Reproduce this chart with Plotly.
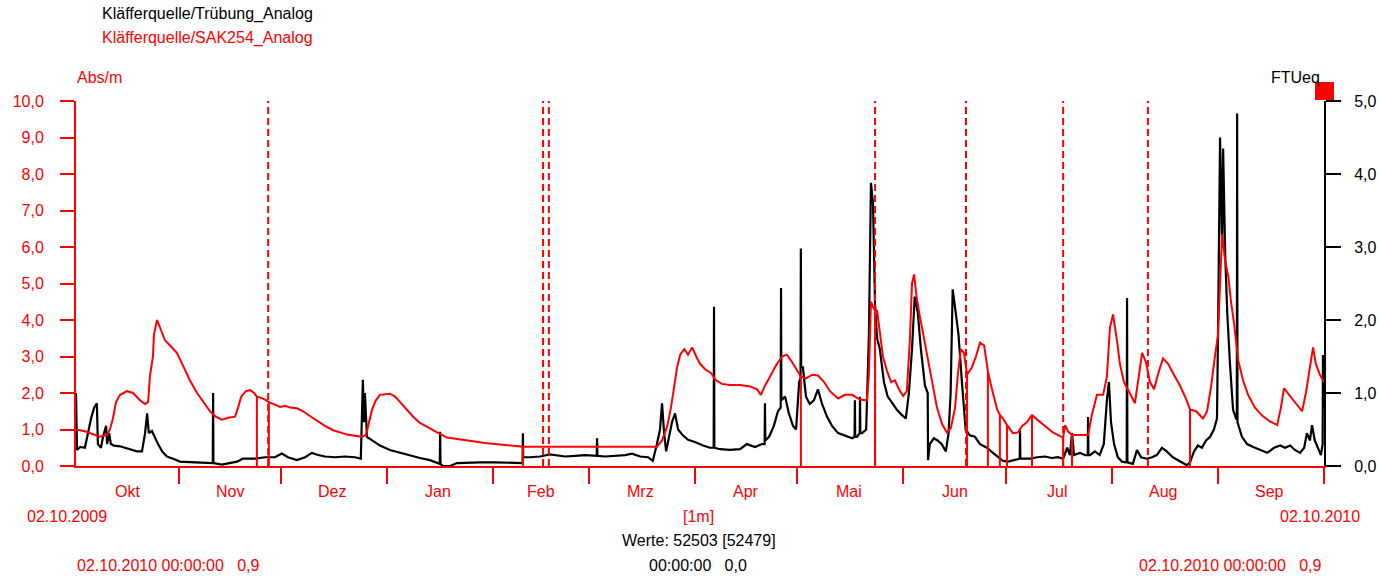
import pandas as pd
import plotly.graph_objects as go

# ---------------- data (days since 02.10.2009, value) ----------------
START = pd.Timestamp("2009-10-02")
END = pd.Timestamp("2010-10-02")

# SAK254 [Abs/m] (left axis); repeated day with 0.0 = recorded drop-outs
sak_points = [
    (0.0, 1.0), (2.6, 0.95), (7.0, 0.80), (9.1, 0.85), (9.9, 1.0), (10.8, 1.3), (11.7, 1.75), (12.9, 1.95),
    (14.9, 2.05), (16.7, 2.0), (18.7, 1.8), (20.2, 1.7), (21.1, 1.75), (21.6, 2.45), (22.5, 3.0), (22.8, 3.6),
    (23.7, 4.0), (24.6, 3.8), (26.0, 3.45), (27.5, 3.3), (29.5, 3.1), (31.3, 2.75), (33.3, 2.35), (35.4, 2.0),
    (37.4, 1.75), (39.2, 1.5), (40.9, 1.35), (42.7, 1.27), (44.5, 1.32), (46.5, 1.35), (47.4, 1.6), (48.3, 1.9),
    (49.7, 2.05), (50.9, 2.08), (52.1, 2.0), (52.9, 1.9), (52.9, 0.0), (52.9, 1.9), (53.8, 1.88), (55.3, 1.82),
    (56.4, 1.75), (56.4, 0.0), (56.4, 1.75), (58.2, 1.68), (59.7, 1.62), (61.1, 1.65), (62.6, 1.6), (64.6, 1.58),
    (66.4, 1.5), (68.4, 1.37), (70.8, 1.22), (72.8, 1.1), (75.2, 0.98), (77.2, 0.92), (79.3, 0.86), (81.6, 0.83),
    (83.6, 0.8), (84.8, 0.85), (85.4, 1.1), (86.6, 1.55), (87.7, 1.8), (88.9, 1.95), (91.8, 1.98), (93.3, 1.9),
    (94.8, 1.75), (96.8, 1.55), (98.6, 1.35), (100.6, 1.18), (102.9, 1.05), (105.6, 0.92), (108.5, 0.78),
    (112.3, 0.72), (116.1, 0.68), (119.6, 0.63), (123.1, 0.6), (126.9, 0.56), (130.7, 0.53), (130.7, 0.0),
    (130.7, 0.53), (135.7, 0.53), (141.6, 0.53), (147.4, 0.55), (153.3, 0.55), (159.1, 0.54), (165.0, 0.53),
    (169.9, 0.53), (171.4, 0.7), (172.9, 1.08), (174.0, 1.6), (174.9, 2.1), (175.8, 2.7), (176.7, 3.05),
    (177.9, 3.2), (179.0, 3.05), (180.2, 3.25), (181.4, 3.0), (182.5, 2.8), (184.0, 2.65), (185.7, 2.55),
    (187.2, 2.35), (188.9, 2.25), (191.3, 2.22), (194.2, 2.22), (197.1, 2.18), (199.2, 2.1), (200.3, 1.95),
    (201.5, 2.2), (203.0, 2.45), (204.7, 2.75), (206.5, 3.0), (207.9, 3.05), (209.4, 2.85), (210.9, 2.6),
    (212.0, 2.45), (212.0, 0.0), (212.0, 2.45), (213.5, 2.4), (215.3, 2.5), (217.0, 2.48), (218.8, 2.3),
    (220.5, 2.05), (222.9, 1.85), (224.9, 1.95), (227.0, 1.95), (229.3, 1.82), (231.3, 1.8), (231.9, 2.5),
    (232.5, 4.5), (233.4, 4.3), (233.7, 4.28), (233.7, 0.0), (233.7, 4.28), (234.3, 4.25), (235.1, 3.6),
    (236.0, 3.0), (237.2, 2.6), (238.4, 2.3), (239.5, 2.35), (240.7, 2.1), (241.9, 1.92), (243.0, 2.05),
    (243.9, 3.5), (244.5, 5.0), (245.1, 5.25), (245.9, 4.6), (246.8, 4.1), (248.0, 3.5), (249.2, 2.9),
    (250.3, 2.3), (251.8, 1.6), (253.3, 1.15), (254.7, 0.92), (255.9, 1.05), (257.1, 1.6), (257.9, 2.5),
    (258.8, 3.2), (259.7, 3.1), (260.6, 2.5), (260.6, 0.0), (260.6, 2.5), (262.0, 2.7), (263.2, 3.0),
    (264.4, 3.38), (265.6, 3.3), (266.7, 2.6), (266.7, 0.0), (266.7, 2.6), (267.9, 2.1), (269.4, 1.55),
    (270.2, 1.4), (270.2, 0.0), (270.2, 1.4), (271.1, 1.3), (272.3, 1.12), (272.3, 0.0), (272.3, 1.12),
    (274.0, 0.9), (275.5, 0.92), (276.7, 1.1), (278.1, 1.2), (279.6, 1.4), (279.6, 0.0), (279.6, 1.4),
    (281.4, 1.25), (283.4, 1.1), (285.7, 0.92), (287.8, 0.82), (288.7, 0.78), (288.7, 0.0), (288.7, 0.78),
    (289.3, 1.12), (290.1, 0.95), (291.3, 0.85), (291.3, 0.0), (291.3, 0.85), (293.6, 0.85), (296.0, 0.85),
    (297.1, 1.4), (298.6, 1.95), (300.4, 1.95), (301.5, 2.45), (302.4, 3.8), (303.3, 4.15), (304.5, 3.4),
    (305.3, 2.8), (306.5, 2.3), (308.3, 1.95), (309.7, 1.72), (310.9, 2.5), (311.8, 3.1), (312.9, 2.85),
    (314.1, 2.3), (315.3, 2.1), (316.4, 2.5), (317.9, 2.95), (319.4, 2.8), (321.1, 2.5), (322.9, 2.2),
    (324.6, 1.85), (325.8, 1.55), (325.8, 0.0), (325.8, 1.55), (327.6, 1.5), (329.6, 1.3), (330.8, 1.5),
    (332.0, 2.2), (333.1, 3.0), (334.0, 3.6), (334.6, 5.0), (335.2, 6.35), (336.1, 5.6), (337.0, 5.2),
    (337.8, 4.5), (338.7, 3.9), (339.9, 2.9), (341.3, 2.35), (342.8, 1.95), (344.8, 1.6), (346.9, 1.38),
    (349.2, 1.22), (351.3, 1.12), (352.4, 1.6), (353.3, 2.13), (354.8, 1.95), (356.5, 1.75), (358.6, 1.5),
    (359.7, 2.0), (360.9, 2.7), (361.8, 3.25), (362.6, 2.8), (363.8, 2.5), (364.7, 2.35), (365.0, 2.3),
]

# Trübung [FTUeq] (right axis)
trub_points = [
    (0.0, 1.0), (0.3, 0.22), (1.2, 0.26), (2.6, 0.25), (3.5, 0.45), (4.4, 0.65), (5.3, 0.8), (6.1, 0.86),
    (6.4, 0.3), (7.3, 0.25), (7.9, 0.4), (8.8, 0.55), (9.1, 0.3), (9.7, 0.45), (10.2, 0.3), (11.1, 0.28),
    (12.9, 0.27), (15.2, 0.24), (17.8, 0.2), (19.3, 0.2), (20.2, 0.45), (20.8, 0.72), (21.3, 0.45),
    (22.2, 0.48), (23.1, 0.38), (24.0, 0.3), (25.2, 0.2), (26.6, 0.13), (28.4, 0.1), (30.4, 0.06),
    (34.8, 0.05), (37.7, 0.04), (40.0, 0.04), (40.1, 1.0), (40.2, 0.04), (42.7, 0.02), (45.0, 0.04),
    (47.1, 0.06), (48.8, 0.1), (52.4, 0.1), (55.3, 0.12), (58.2, 0.12), (60.2, 0.17), (62.0, 0.12),
    (64.6, 0.08), (67.0, 0.12), (69.0, 0.18), (70.8, 0.15), (72.8, 0.13), (75.7, 0.12), (78.7, 0.13),
    (81.6, 0.12), (83.3, 0.1), (83.9, 1.18), (84.2, 0.6), (84.5, 1.0), (85.1, 0.4), (86.6, 0.35),
    (88.9, 0.28), (91.8, 0.22), (94.8, 0.18), (97.7, 0.14), (100.6, 0.11), (103.5, 0.08), (105.9, 0.03),
    (106.4, 0.03), (106.5, 0.47), (106.6, 0.03), (107.3, 0.0), (109.4, 0.0), (111.4, 0.04), (115.2, 0.05),
    (118.2, 0.05), (122.5, 0.05), (126.9, 0.04), (130.6, 0.04), (130.7, 0.45), (130.8, 0.12), (132.8, 0.12),
    (135.7, 0.13), (138.6, 0.16), (140.7, 0.15), (143.0, 0.13), (146.0, 0.14), (148.9, 0.15), (152.3, 0.14),
    (152.4, 0.38), (152.5, 0.14), (154.7, 0.13), (157.6, 0.14), (160.6, 0.15), (162.6, 0.17), (165.0, 0.13),
    (167.3, 0.12), (168.7, 0.07), (169.9, 0.3), (170.8, 0.5), (171.4, 0.86), (172.0, 0.45), (172.6, 0.2),
    (173.4, 0.4), (174.3, 0.6), (175.2, 0.72), (176.1, 0.5), (177.5, 0.42), (179.0, 0.36), (181.0, 0.33),
    (183.4, 0.28), (185.4, 0.25), (186.5, 0.25), (186.6, 2.18), (186.7, 0.25), (188.4, 0.23), (191.3, 0.22),
    (194.2, 0.23), (196.2, 0.3), (198.6, 0.26), (200.6, 0.3), (201.4, 0.3), (201.5, 0.86), (201.6, 0.35),
    (202.7, 0.4), (204.1, 0.55), (205.3, 0.75), (206.1, 0.8), (206.2, 2.44), (206.3, 0.9), (207.4, 0.95),
    (208.5, 0.72), (209.7, 0.55), (210.6, 0.5), (211.5, 1.15), (211.9, 1.2), (212.0, 2.98), (212.1, 1.35),
    (212.6, 1.35), (213.5, 0.95), (214.6, 0.85), (215.8, 0.9), (217.0, 1.05), (218.2, 0.85), (219.6, 0.68),
    (221.1, 0.55), (222.9, 0.45), (224.9, 0.42), (227.0, 0.38), (227.7, 0.4), (227.8, 0.9), (227.9, 0.4),
    (228.4, 0.4), (229.2, 0.45), (229.3, 0.95), (229.4, 0.45), (229.9, 0.45), (231.1, 0.5), (231.9, 1.8),
    (232.5, 3.88), (233.1, 3.6), (233.7, 2.2), (234.3, 1.75), (235.1, 1.6), (236.3, 1.15), (237.4, 0.95),
    (238.9, 0.85), (240.1, 0.77), (241.5, 0.7), (242.7, 0.65), (243.6, 1.0), (244.5, 1.6), (245.3, 2.32),
    (246.2, 2.1), (247.1, 1.6), (248.3, 1.1), (249.1, 1.0), (249.2, 0.08), (249.7, 0.3), (250.9, 0.38),
    (252.0, 0.35), (253.2, 0.3), (254.4, 0.2), (255.2, 0.45), (255.8, 1.0), (256.4, 2.42), (257.3, 2.1),
    (258.1, 1.8), (259.1, 1.15), (260.2, 0.5), (261.4, 0.42), (262.9, 0.4), (264.4, 0.3), (266.4, 0.25),
    (268.2, 0.18), (269.4, 0.13), (271.1, 0.07), (272.6, 0.06), (274.0, 0.08), (275.8, 0.1), (276.0, 0.1),
    (276.1, 0.49), (276.2, 0.1), (276.7, 0.1), (279.0, 0.1), (281.1, 0.12), (283.4, 0.13), (285.4, 0.11),
    (287.2, 0.12), (288.7, 0.1), (289.9, 0.25), (290.7, 0.15), (291.3, 0.45), (291.9, 0.15), (293.6, 0.18),
    (295.1, 0.15), (295.9, 0.15), (296.0, 0.67), (296.1, 0.15), (296.6, 0.15), (298.0, 0.2), (299.4, 0.15),
    (300.6, 0.3), (301.5, 0.9), (302.1, 1.15), (302.7, 0.6), (303.6, 0.3), (304.7, 0.12), (305.9, 0.06),
    (307.1, 0.05), (307.3, 0.05), (307.4, 2.3), (307.5, 0.05), (309.1, 0.03), (310.3, 0.22), (311.5, 0.12),
    (313.2, 0.1), (314.7, 0.12), (316.1, 0.15), (317.6, 0.25), (319.0, 0.2), (320.8, 0.12), (322.9, 0.06),
    (324.9, 0.01), (325.8, 0.05), (327.0, 0.2), (328.1, 0.28), (329.3, 0.25), (330.5, 0.35), (331.7, 0.4),
    (332.8, 0.5), (333.7, 0.65), (334.0, 1.8), (334.6, 4.5), (335.2, 3.0), (335.5, 4.35), (336.1, 2.9),
    (336.7, 2.1), (337.5, 1.4), (338.4, 0.77), (339.3, 0.65), (339.5, 0.65), (339.6, 4.83), (339.7, 0.6),
    (341.0, 0.4), (342.5, 0.3), (344.3, 0.26), (346.3, 0.22), (348.4, 0.18), (350.4, 0.25), (352.2, 0.28),
    (353.6, 0.25), (355.1, 0.28), (356.5, 0.22), (358.0, 0.18), (359.2, 0.25), (360.0, 0.45), (360.9, 0.35),
    (361.5, 0.56), (362.3, 0.35), (363.2, 0.25), (364.1, 0.15), (364.6, 0.3), (364.7, 1.52), (365.0, 0.8),
]

# dashed event markers (days since start)
event_days = [56.2, 136.6, 138.3, 233.7, 260.3, 288.7, 313.5]

month_ticks = ["2009-11-01", "2009-12-01", "2010-01-01", "2010-02-01", "2010-03-01", "2010-04-01",
               "2010-05-01", "2010-06-01", "2010-07-01", "2010-08-01", "2010-09-01", "2010-10-02"]
month_label_pos = ["2009-10-17", "2009-11-16", "2009-12-16", "2010-01-16", "2010-02-15", "2010-03-16",
                   "2010-04-16", "2010-05-16", "2010-06-16", "2010-07-16", "2010-08-16", "2010-09-16"]
month_labels = ["Okt", "Nov", "Dez", "Jan", "Feb", "Mrz", "Apr", "Mai", "Jun", "Jul", "Aug", "Sep"]

sak_ticks = [0, 1, 2, 3, 4, 5, 6, 7, 8, 9, 10]
trub_ticks = [0, 1, 2, 3, 4, 5]

# ---------------- figure ----------------
RED = "#ff0000"
BLACK = "#000000"
FONT = "Liberation Sans, Arial, sans-serif"
FS = 16


def to_dates(days):
    return [START + pd.Timedelta(days=d) for d in days]


sak_x = to_dates([p[0] for p in sak_points])
sak_y = [p[1] for p in sak_points]
trub_x = to_dates([p[0] for p in trub_points])
trub_y = [p[1] for p in trub_points]

fig = go.Figure()
# Turbidity on y (right axis), SAK on y2 (left axis, overlaying -> drawn on top)
fig.add_trace(go.Scatter(x=trub_x, y=trub_y, mode="lines", yaxis="y",
                         line=dict(color=BLACK, width=2.2), showlegend=False, hoverinfo="skip"))
fig.add_trace(go.Scatter(x=sak_x, y=sak_y, mode="lines", yaxis="y2",
                         line=dict(color=RED, width=2), showlegend=False, hoverinfo="skip"))

shapes = []
for d in event_days:
    t = START + pd.Timedelta(days=d)
    shapes.append(dict(type="line", xref="x", yref="paper", x0=t, x1=t, y0=0, y1=1,
                       line=dict(color=RED, width=2, dash="7px,4px"), layer="above"))
# red marker square at the top right corner
shapes.append(dict(type="rect", xref="paper", yref="paper",
                   x0=(1315 - 76) / 1248, x1=(1334 - 76) / 1248,
                   y0=(466 - 100) / 365, y1=(466 - 82) / 365,
                   fillcolor=RED, line=dict(width=0), layer="above"))


def ann(text, x, y, color, xanchor="center", xref="paper"):
    return dict(text=text, x=x, y=y, xref=xref, yref="paper", xanchor=xanchor, yanchor="middle",
                showarrow=False, font=dict(family=FONT, size=FS, color=color))


def py(p):
    return (466 - p) / 365


def px(p):
    return (p - 76) / 1248


NB = "\u00a0"
annotations = [
    ann("Kläfferquelle/Trübung_Analog", px(100), py(14), BLACK, "left"),
    ann("Kläfferquelle/SAK254_Analog", px(100), py(38), RED, "left"),
    ann("Abs/m", px(75), py(78), RED, "left"),
    ann("FTUeq", px(1322), py(78), BLACK, "right"),
    ann("02.10.2009", px(25), py(516), RED, "left"),
    ann("02.10.2010", px(1362), py(516), RED, "right"),
    ann("[1m]", px(698), py(516), RED, "center"),
    ann("Werte: 52503 [52479]", px(699), py(540), BLACK, "center"),
    ann("00:00:00" + NB * 3 + "0,0", px(698), py(565), BLACK, "center"),
    ann("02.10.2010 00:00:00" + NB * 3 + "0,9", px(75), py(565), RED, "left"),
    ann("02.10.2010 00:00:00" + NB * 3 + "0,9", px(1323), py(565), RED, "right"),
]
for pos, lab in zip(month_label_pos, month_labels):
    annotations.append(ann(lab, pos, py(491), RED, "center", xref="x"))

fig.update_layout(
    width=1378, height=579,
    margin=dict(l=76, r=54, t=101, b=113, pad=0, autoexpand=False),
    paper_bgcolor="white", plot_bgcolor="white",
    separators=",.",
    font=dict(family=FONT, size=FS),
    showlegend=False,
    xaxis=dict(type="date", range=[START, END], showgrid=False, zeroline=False, automargin=False,
               showline=True, linecolor=RED, linewidth=2,
               tickmode="array", tickvals=month_ticks, ticks="outside", ticklen=16,
               tickwidth=2, tickcolor=RED, showticklabels=False),
    yaxis=dict(range=[0, 5], side="right", showgrid=False, zeroline=False, automargin=False,
               showline=True, linecolor=BLACK, linewidth=2,
               tickmode="array", tickvals=trub_ticks, tickformat=".1f",
               ticks="outside", ticklen=15, tickwidth=2, tickcolor=BLACK,
               tickfont=dict(family=FONT, size=FS, color=BLACK), ticklabelstandoff=10),
    yaxis2=dict(range=[0, 10], side="left", overlaying="y", showgrid=False, zeroline=False,
                automargin=False,
                showline=True, linecolor=RED, linewidth=2,
                tickmode="array", tickvals=sak_ticks, tickformat=".1f",
                ticks="outside", ticklen=14, tickwidth=2, tickcolor=RED,
                tickfont=dict(family=FONT, size=FS, color=RED), ticklabelstandoff=13),
    shapes=shapes,
    annotations=annotations,
)

fig.write_html("out.html")
